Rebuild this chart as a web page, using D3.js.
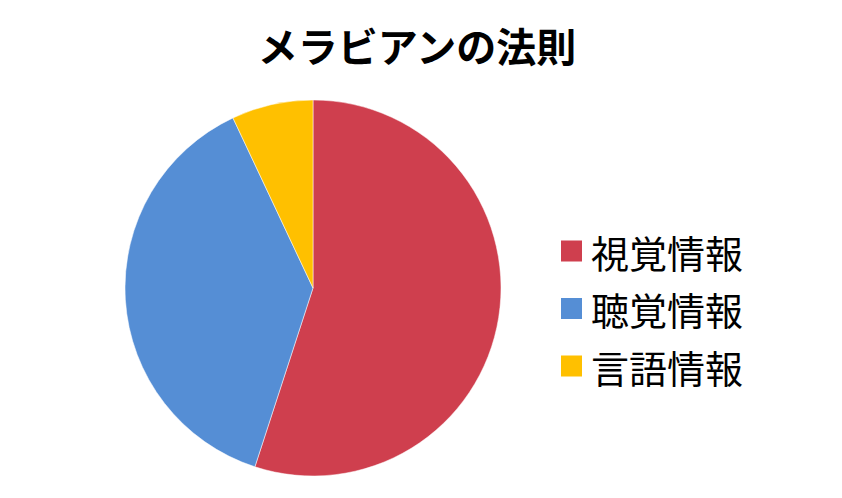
<!DOCTYPE html>
<html><head><meta charset="utf-8">
<script src="https://cdn.jsdelivr.net/npm/d3@7"></script>
<style>body{margin:0;background:#fff}</style>
</head><body>
<svg id="c" width="842" height="498"></svg>
<script>
const title = "メラビアンの法則";
const categories = ["視覚情報", "聴覚情報", "言語情報"];
const values = [55, 38, 7];
const colors = ["#CF3F4E", "#558ED5", "#FFC000"];

const svg = d3.select("#c");
const font = "'Noto Sans CJK JP', sans-serif";

svg.append("text").attr("x", 417).attr("y", 45)
  .attr("text-anchor", "middle").attr("dominant-baseline", "central")
  .attr("font-family", font).attr("font-weight", "bold").attr("font-size", 40)
  .text(title);

const data = categories.map((c, i) => ({cat: c, v: values[i], col: colors[i]}));
const pie = d3.pie().value(d => d.v).sort(null);
const arc = d3.arc().innerRadius(0).outerRadius(188);
const g = svg.append("g").attr("transform", "translate(313,288)");
g.selectAll("path").data(pie(data)).join("path")
  .attr("d", arc).attr("fill", d => d.data.col)
  .attr("stroke", "#fff").attr("stroke-width", 0.5);

const leg = svg.append("g");
const rowY = d3.scalePoint().domain(categories).range([251, 366]);
const items = leg.selectAll("g").data(data).join("g")
  .attr("transform", d => `translate(561,${rowY(d.cat)})`);
items.append("rect").attr("x", 0).attr("y", -10.5).attr("width", 21).attr("height", 21)
  .attr("fill", d => d.col);
items.append("text").attr("x", 30).attr("y", 0)
  .attr("dominant-baseline", "central")
  .attr("font-family", font).attr("font-size", 38)
  .text(d => d.cat);
</script>
</body></html>
